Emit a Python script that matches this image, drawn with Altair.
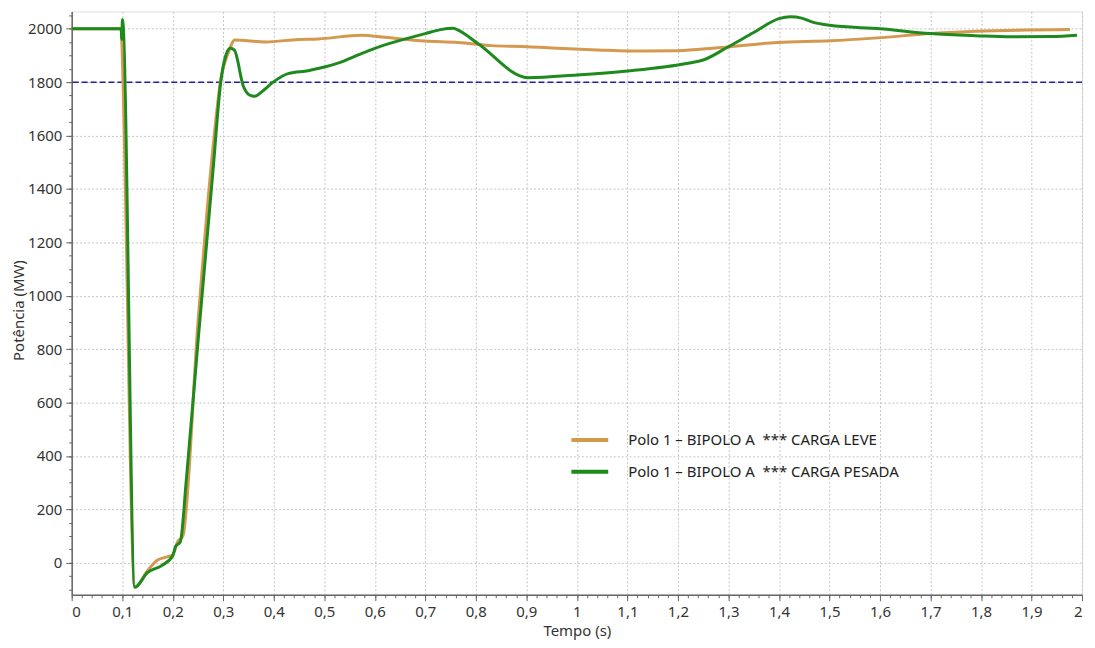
import altair as alt
import pandas as pd

# ---- data ----
leve_t = [0, 0.098, 0.099, 0.125, 0.15, 0.17, 0.185, 0.2, 0.21, 0.22, 0.25, 0.28, 0.295, 0.31, 0.323,
          0.383, 0.449, 0.488, 0.574, 0.62, 0.699, 0.765, 0.831, 0.903, 0.962, 1.042, 1.10, 1.20,
          1.279, 1.397, 1.502, 1.595, 1.70, 1.79, 1.976]
leve_v = [2000, 2000, 1960, -92, -30, 10, 20, 30, 80, 100, 900, 1560, 1810, 1910, 1958,
          1951, 1960, 1962, 1976, 1968, 1954, 1949, 1937, 1933, 1927, 1921, 1917, 1918,
          1929, 1949, 1955, 1966, 1982, 1991, 1997]

pesada_t = [0, 0.098, 0.099, 0.1005, 0.125, 0.15, 0.178, 0.2, 0.206, 0.215, 0.227, 0.25, 0.28, 0.295,
            0.305, 0.314, 0.322, 0.34, 0.352, 0.362, 0.38, 0.40, 0.43, 0.468, 0.49, 0.53, 0.567,
            0.60, 0.70, 0.73, 0.755, 0.765, 0.804, 0.903, 1.0, 1.10, 1.22, 1.25, 1.30, 1.35, 1.40,
            1.423, 1.445, 1.465, 1.50, 1.60, 1.70, 1.79, 1.86, 1.94, 1.99]
pesada_v = [2000, 2000, 1960, 2035, -92, -37, -11, 26, 62, 78, 313, 827, 1475, 1800,
            1900, 1927, 1920, 1784, 1752, 1747, 1770, 1802, 1833, 1843, 1852, 1873, 1902,
            1927, 1982, 1997, 2002, 1995, 1945, 1817, 1827, 1842, 1871, 1883, 1933, 1986, 2038,
            2045, 2040, 2026, 2013, 2000, 1982, 1974, 1970, 1971, 1976]

series_names = ["Polo 1 \u2013 BIPOLO A \u00a0*** CARGA LEVE",
                "Polo 1 \u2013 BIPOLO A \u00a0*** CARGA PESADA"]
series_colors = ["#d4984f", "#1e8a1e"]
reference_level = 1800

x_major = [round(i * 0.1, 1) for i in range(21)]
x_minor = [round(i * 0.02, 2) for i in range(101)]
y_major = list(range(0, 2001, 200))
y_minor = list(range(-100, 2051, 50))

rows = []
for t, v in zip(leve_t, leve_v):
    rows.append({"t": t, "p": v, "serie": series_names[0], "ord": 0})
for t, v in zip(pesada_t, pesada_v):
    rows.append({"t": t, "p": v, "serie": series_names[1], "ord": 1})
df = pd.DataFrame(rows)

FONT = "Noto Sans"
xscale = alt.Scale(domain=[0, 2], nice=False)
yscale = alt.Scale(domain=[-120, 2065], nice=False)

minor = alt.Chart(df).mark_line(opacity=0).encode(
    x=alt.X("t:Q", scale=xscale, axis=alt.Axis(orient="bottom", values=x_minor, labels=False, title=None,
                                                 grid=False, domain=False, tickSize=3, tickColor="#666")),
    y=alt.Y("p:Q", scale=yscale, axis=alt.Axis(orient="left", values=y_minor, labels=False, title=None,
                                                grid=False, domain=False, tickSize=3, tickColor="#666")),
    detail="serie:N",
)

lines = alt.Chart(df).mark_line(strokeWidth=3, interpolate="monotone").encode(
    x=alt.X("t:Q", scale=xscale, axis=alt.Axis(
        orient="bottom", values=x_major, title="Tempo (s)",
        labelExpr="replace(format(datum.value, '.1~f'), '.', ',')",
        grid=True, gridDash=[2, 2], gridColor="#c4c4c4",
        tickSize=6, tickColor="#666", domainColor="#666", domainWidth=1.5,
        labelFontSize=15, labelColor="#333", labelFont=FONT, labelPadding=4,
        titleFontSize=15, titleColor="#333", titleFont=FONT, titleFontWeight="normal", titlePadding=4)),
    y=alt.Y("p:Q", scale=yscale, axis=alt.Axis(
        orient="left", values=y_major, title="Potência (MW)", format="d",
        grid=True, gridDash=[2, 2], gridColor="#c4c4c4",
        tickSize=6, tickColor="#666", domainColor="#666", domainWidth=1.5,
        labelFontSize=15, labelColor="#333", labelFont=FONT, labelPadding=4,
        titleFontSize=15, titleColor="#333", titleFont=FONT, titleFontWeight="normal",
        titleX=-45, titleY=300)),
    color=alt.Color("serie:N", scale=alt.Scale(domain=series_names, range=series_colors),
                    legend=alt.Legend(orient="none", legendX=500, legendY=410, title=None,
                                      symbolType="stroke", symbolSize=1369, symbolStrokeWidth=4,
                                      labelFontSize=15, labelFont=FONT, labelColor="#222",
                                      labelOffset=18, rowPadding=3, labelLimit=600)),
    order="ord:Q",
)

rule = alt.Chart(pd.DataFrame({"y": [reference_level]})).mark_rule(
    color="#22229a", strokeWidth=1.5, strokeDash=[6, 3]).encode(
    y=alt.Y("y:Q", scale=yscale, axis=None))

chart = alt.layer(minor, rule, lines).resolve_axis(x="independent", y="independent").resolve_scale(
    x="shared", y="shared").properties(
    width=1015, height=586,
    autosize=alt.AutoSizeParams(type="none"),
    padding={"left": 64, "top": 2, "right": 5, "bottom": 45},
).configure_view(stroke="#888", strokeWidth=1.5).configure(background="white")

chart.save("out.html", embed_options={"renderer": "svg", "actions": False})
